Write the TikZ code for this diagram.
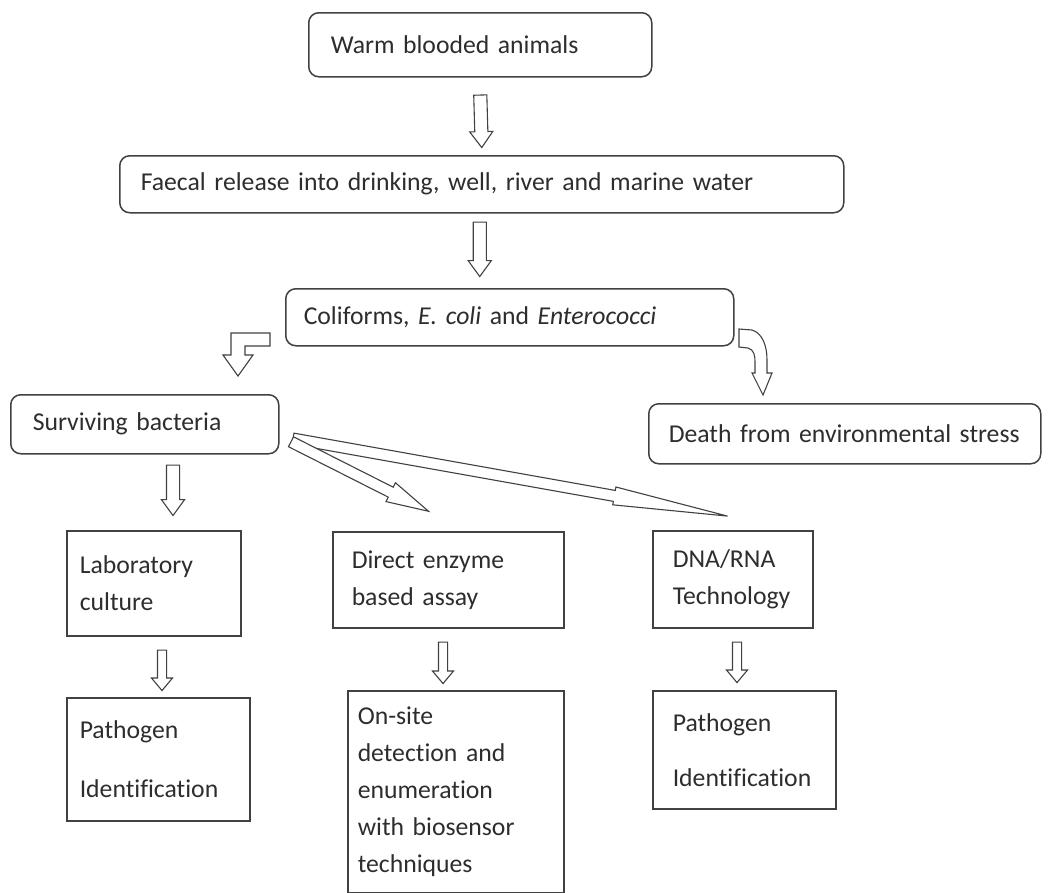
\documentclass[tikz,border=0pt]{standalone}
\usepackage{fontspec}
\setmainfont{Carlito}[Ligatures=NoCommon]
\definecolor{edge}{RGB}{65,65,65}
\definecolor{ink}{RGB}{45,45,45}
\usepackage{tikz}
\usetikzlibrary{shapes.arrows,calc}

\newcommand{\blockarr}[3]{%
  \path let \p1=($(#3)-(#2)$), \n1={veclen(\x1,\y1)} in
    (#2) -- (#3) node[#1, pos=0, sloped, anchor=tail, minimum height=\n1] {};}

\begin{document}
\begin{tikzpicture}[x=1pt, y=-1pt,
  box/.style={draw=edge, line width=1.5pt, anchor=north west, align=left, text=ink,
    inner ysep=0pt, font=\fontsize{25.7}{37}\selectfont},
  roundbox/.style={box, rounded corners=10pt},
  harrow/.style={draw=edge, fill=white, line width=1.1pt, single arrow, minimum width=0pt,
    inner xsep=0pt, allow upside down},
  bigarrow/.style={harrow, inner ysep=6pt, single arrow head extend=5pt, single arrow tip angle=72},
  lowarrow/.style={harrow, inner ysep=4pt, single arrow head extend=6pt, single arrow tip angle=80},
  longarrow/.style={harrow, inner ysep=5pt, single arrow head extend=3.5pt, single arrow tip angle=9},
  shortarrow/.style={harrow, inner ysep=5pt, single arrow head extend=5pt, single arrow tip angle=28},
  bentarrow/.style={draw=edge, fill=white, line width=1.1pt}]
  \useasboundingbox (0,0) rectangle (1048,892);
  %% Rounded boxes, top part
  \node[roundbox, inner xsep=22pt, text width=299pt, minimum height=64pt] (warm) at (308,12) {Warm blooded animals};
  \node[roundbox, inner xsep=21pt, text width=682pt, minimum height=57pt] (faecal) at (119,155)
    {Faecal release into drinking, well, river and marine water};
  \node[roundbox, inner xsep=18pt, text width=412pt, minimum height=57pt] (coliforms) at (285,288)
    {Coliforms, \textit{E. coli} and \textit{Enterococci}};
  \node[roundbox, inner xsep=22pt, text width=224pt, minimum height=59pt] (surviving) at (10,394) {Surviving bacteria};
  \node[roundbox, inner xsep=20pt, text width=352pt, minimum height=60pt] (death) at (648,403)
    {Death from environmental stress};
  %% Methods
  \node[box, inner xsep=13pt, text width=148pt, minimum height=105pt] (labculture) at (66,530) {Laboratory\\culture};
  \node[box, inner xsep=19pt, text width=193pt, minimum height=96pt] (enzyme) at (332,531) {Direct enzyme\\based assay};
  \node[box, inner xsep=20pt, text width=120pt, minimum height=97pt] (dnarna) at (652,530) {DNA/RNA\\Technology};
  %% Results
  \node[box, inner xsep=13pt, text width=157pt, minimum height=123pt] (pathleft) at (66,697)
    {Pathogen\\[22pt]Identification};
  \node[box, inner xsep=10pt, inner ysep=16pt, text width=196pt] (onsite) at (347,690)
    {On-site\\detection and\\enumeration\\with biosensor\\techniques};
  \node[box, inner xsep=20pt, text width=143pt, minimum height=118pt] (pathright) at (652,690)
    {Pathogen\\[18pt]Identification};

  %% Block arrows
  \blockarr{bigarrow}{$(warm.south)+(0,17)$}{$(faecal.north)+(0,-8)$}
  \blockarr{bigarrow}{$(faecal.south)+(-2,8)$}{$(faecal.south|-coliforms.north)+(-2,-12)$}
  \coordinate (s1) at ($(surviving.south west)+(163,10)$);
  \blockarr{bigarrow}{s1}{$(s1|-labculture.north)+(0,-15)$}
  \coordinate (tail) at ($(surviving.south east)+(13,-16)$);
  \blockarr{longarrow}{tail}{$(dnarna.north west)+(75,-14)$}
  \blockarr{shortarrow}{$(tail)+(-2,3)$}{$(enzyme.north west)+(96,-20)$}
  \coordinate (m1) at ($(labculture.south west)+(96,13)$);
  \coordinate (m2) at ($(enzyme.south west)+(111,13)$);
  \coordinate (m3) at ($(dnarna.south west)+(85,13)$);
  \blockarr{lowarrow}{m1}{$(m1|-pathleft.north)+(0,-7)$}
  \blockarr{lowarrow}{m2}{$(m2|-onsite.north)+(0,-7)$}
  \blockarr{lowarrow}{m3}{$(m3|-pathright.north)+(0,-8)$}
  %% Bent arrows out of the coliforms box
  \draw[bentarrow] (270,333) -- (231,333) -- (231,355) -- (223,355) -- (238,376)
    -- (253,355) -- (245,355) -- (245,346) -- (270,346) -- cycle;
  \draw[bentarrow] (739,329) -- (752,330) .. controls (762,333) and (767,345) .. (767,360)
    -- (767,373) -- (772,373) -- (763,395) -- (752,373) -- (755,373) -- (755,362)
    .. controls (755,355) and (754,350) .. (748,348) -- (739,347) -- cycle;
\end{tikzpicture}
\end{document}
